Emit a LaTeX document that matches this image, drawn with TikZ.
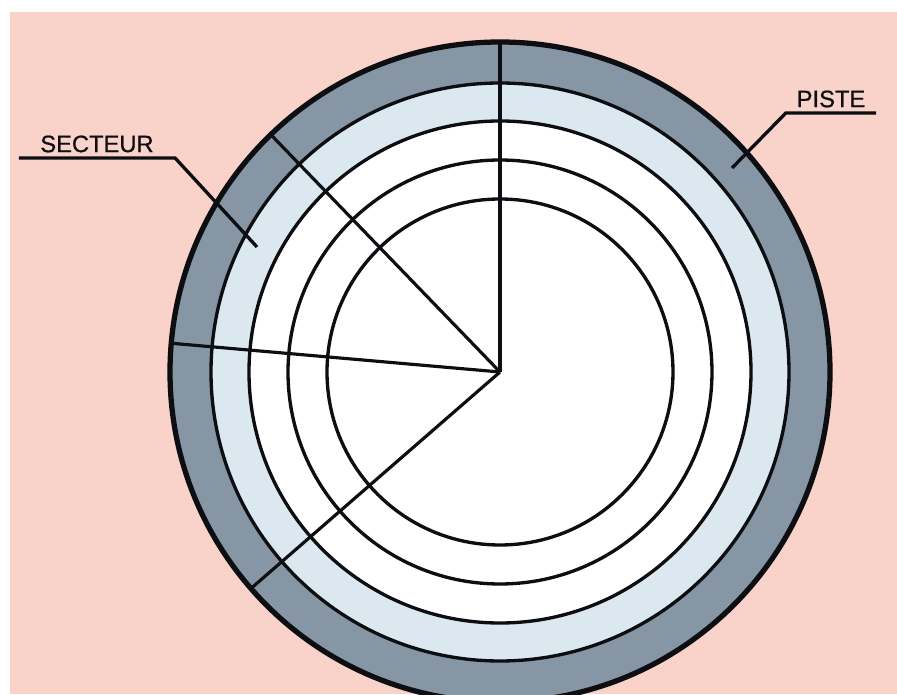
\documentclass[tikz,border=0pt]{standalone}
\usepackage{fontspec}
\setmainfont{Liberation Sans}
\newfontfamily\tagfont[FakeBold=0.8]{Liberation Sans}
\usepackage{tikz}
\usetikzlibrary{positioning,calc}
\usepackage{xcolor}
\definecolor{paper}{HTML}{F9D3C9}
\definecolor{bandout}{HTML}{8796A4}
\definecolor{bandin}{HTML}{DCE8EF}
\definecolor{ink}{HTML}{0C0E12}

\begin{document}
\begin{tikzpicture}[
  x=0.02cm, y=0.02cm,
  every node/.style={font=\tagfont\fontsize{13.5}{15}\selectfont, text=ink},
  track/.style={draw=ink, line width=1.9pt},
  rim/.style={draw=ink, line width=3pt},
  sector/.style={draw=ink, line width=1.8pt},
  leader/.style={draw=ink, line width=1.9pt},
  tag/.style={inner ysep=3pt, anchor=south}
]
  % Frame
  \useasboundingbox (0,0) rectangle (897,694);
  \fill[white] (0,0) rectangle (897,694);
  \fill[paper] (10,0) rectangle (897,682);

  % Disc centre and track radii
  \coordinate (c) at (500,322);
  \def\rA{330}\def\rB{289}\def\rC{251}\def\rD{212}\def\rE{173}

  % Shaded outer tracks
  \fill[bandout] (c) circle[radius=\rA];
  \fill[bandin] (c) circle[radius=\rB];
  \fill[white] (c) circle[radius=\rC];

  % Sector boundaries
  \foreach \a in {90,134,175,221}
    \draw[sector] (c) -- ++(\a:\rA);

  % Tracks
  \foreach \r in {\rB,\rC,\rD,\rE}
    \draw[track] (c) circle[radius=\r];
  \draw[rim] (c) circle[radius=\rA];

  % Labels
  \node[tag, inner xsep=12pt] (secteur) at (97,536) {SECTEUR};
  \coordinate (sectip) at (257,447);
  \draw[leader] (secteur.south west) -- (secteur.south east) -- (sectip);

  \node[tag, inner xsep=6pt] (piste) at (831,581) {PISTE};
  \coordinate (pistip) at (732,526);
  \draw[leader] (piste.south east) -- (piste.south west) -- (pistip);
\end{tikzpicture}
\end{document}
